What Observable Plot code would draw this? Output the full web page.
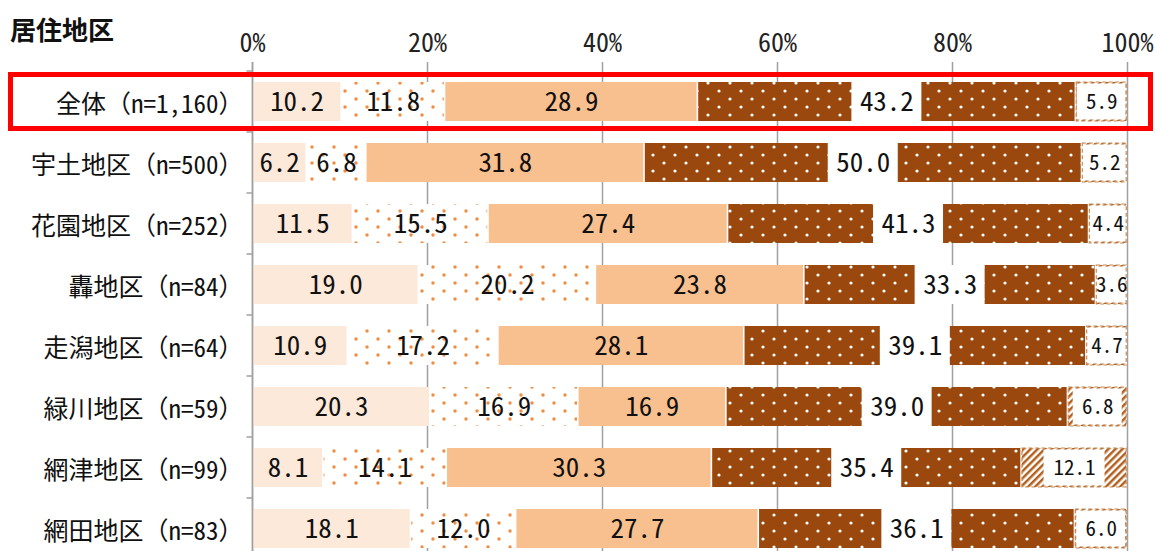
<!DOCTYPE html>
<html><head><meta charset="utf-8">
<script src="https://cdn.jsdelivr.net/npm/d3@7"></script>
<script src="https://cdn.jsdelivr.net/npm/@observablehq/plot@0.6"></script>
<style>
body{margin:0;background:#fff;}
#wrap{position:relative;width:1156px;height:551px;overflow:hidden;background:#fff;}
#wrap svg{display:block;}
#title{position:absolute;left:10px;top:16px;font-weight:bold;font-size:26px;font-family:"Noto Sans CJK JP",sans-serif;line-height:1;color:#111;}
</style></head><body>
<svg width="0" height="0" style="position:absolute">
<defs>
<pattern id="dotsOrange" patternUnits="userSpaceOnUse" width="22" height="16">
<rect width="22" height="16" fill="#ffffff"/>
<circle cx="4" cy="3" r="1.7" fill="#F28C3F"/>
<circle cx="15" cy="11" r="1.7" fill="#F28C3F"/>
</pattern>
<pattern id="dotsBrown" patternUnits="userSpaceOnUse" width="22" height="16">
<rect width="22" height="16" fill="#9A480E"/>
<circle cx="4" cy="3" r="1.6" fill="#ffffff"/>
<circle cx="15" cy="11" r="1.6" fill="#ffffff"/>
</pattern>
<pattern id="hatch" patternUnits="userSpaceOnUse" width="5" height="5" patternTransform="rotate(45)">
<rect width="5" height="5" fill="#ffffff"/>
<rect width="2.5" height="5" fill="#B4611F"/>
</pattern>
</defs></svg>
<div id="wrap"><div id="title">居住地区</div></div>
<script>
const categories = ["全体（n=1,160）","宇土地区（n=500）","花園地区（n=252）","轟地区（n=84）","走潟地区（n=64）","緑川地区（n=59）","網津地区（n=99）","網田地区（n=83）"];
const seg1 = [10.2, 6.2, 11.5, 19.0, 10.9, 20.3, 8.1, 18.1];
const seg2 = [11.8, 6.8, 15.5, 20.2, 17.2, 16.9, 14.1, 12.0];
const seg3 = [28.9, 31.8, 27.4, 23.8, 28.1, 16.9, 30.3, 27.7];
const seg4 = [43.2, 50.0, 41.3, 33.3, 39.1, 39.0, 35.4, 36.1];
const seg5 = [5.9, 5.2, 4.4, 3.6, 4.7, 6.8, 12.1, 6.0];
const xTicks = [0, 20, 40, 60, 80, 100];

const fills = ["#FDE9D9", "url(#dotsOrange)", "#F8C08F", "url(#dotsBrown)", "url(#hatch)"];
const W = 1156, H = 551, ML = 252, MR = 29, MT = 69;
const PAD_IN = 0.365;

const series = [seg1, seg2, seg3, seg4, seg5];
const rows = [];
categories.forEach((cat, i) => {
  const vals = series.map(s => s[i]);
  const total = d3.sum(vals);
  let cum = 0;
  vals.forEach((v, j) => {
    const x1 = cum / total * 100; cum += v; const x2 = cum / total * 100;
    rows.push({cat, seg: j, v, x1, x2, mid: (x1 + x2) / 2, label: v.toFixed(1)});
  });
});
const pxPerUnit = (W - ML - MR) / 100;
const box4 = rows.filter(d => d.seg === 3).map(d => ({...d, b1: d.mid - 35 / pxPerUnit, b2: d.mid + 35 / pxPerUnit}));
const box5 = rows.filter(d => d.seg === 4).map(d => {
  const half = Math.min((d.x2 - d.x1) / 2, (13 + 12 * d.label.length) / 2 / pxPerUnit);
  return {...d, b1: d.mid - half, b2: d.mid + half};
});

function decorations(index, scales, values, dimensions) {
  const y = scales.y;
  const y0 = y(categories[0]), y1 = y(categories[1]);
  const step = y1 - y0;
  let bw = typeof y.bandwidth === "function" ? y.bandwidth() : y.bandwidth;
  if (!(bw > 0)) bw = step * (1 - PAD_IN);
  const gap = (step - bw) / 2;
  const g = d3.create("svg:g");
  categories.forEach(c => {
    const yb = y(c) - gap;
    g.append("line").attr("x1", dimensions.marginLeft - 5.5).attr("x2", dimensions.marginLeft)
      .attr("y1", yb).attr("y2", yb).attr("stroke", "#A0A0A0").attr("stroke-width", 1.5);
  });
  const top = y0 - gap + 3.5, bottom = y0 + bw + gap - 3.5;
  g.append("rect").attr("x", 10.5).attr("y", top).attr("width", dimensions.width - 16)
    .attr("height", bottom - top).attr("fill", "none").attr("stroke", "#FF0000").attr("stroke-width", 5);
  return g.node();
}

const svg = Plot.plot({
  width: W, height: H, marginLeft: ML, marginRight: MR, marginTop: MT, marginBottom: 0,
  style: {fontFamily: '"Noto Sans Mono CJK JP","Noto Sans CJK JP",monospace', background: "white", overflow: "visible"},
  x: {domain: [0, 100], axis: null},
  y: {domain: categories, range: [MT, 561], paddingInner: PAD_IN, paddingOuter: PAD_IN / 2, axis: null},
  color: {type: "identity"},
  marks: [
    Plot.ruleX(xTicks, {x: d => d, stroke: "#A0A0A0", strokeWidth: 1.5, insetTop: -7}),
    Plot.barX(rows, {x1: "x1", x2: "x2", y: "cat", fill: d => fills[d.seg], insetLeft: 0.8, insetRight: 0.8, ariaLabel: "segments"}),
    Plot.barX(box4, {x1: "b1", x2: "b2", y: "cat", fill: "white"}),
    Plot.barX(box5, {x1: "b1", x2: "b2", y: "cat", fill: "white", insetTop: 1.5, insetBottom: 1.5}),
    Plot.barX(rows.filter(d => d.seg === 4), {x1: "x1", x2: "x2", y: "cat", fill: "none", stroke: "#C98A55", strokeWidth: 1.2, strokeDasharray: "4,2.5", insetLeft: 0.8, insetRight: 0.8}),
    Plot.ruleX([0], {x: d => d, stroke: "#A0A0A0", strokeWidth: 1.5, insetTop: -7}),
    Plot.text(rows.filter(d => d.seg < 4), {x: "mid", y: "cat", text: "label", fontSize: 27, fontWeight: 300, fill: "#111", ariaLabel: "vlabel"}),
    Plot.text(rows.filter(d => d.seg === 4), {x: "mid", y: "cat", text: "label", fontSize: 21, fontWeight: 300, fill: "#111", ariaLabel: "vlabel5"}),
    Plot.text(xTicks, {x: d => d, frameAnchor: "top", lineAnchor: "bottom", dy: -18, text: d => d + "%", fontSize: 26, fontWeight: 300, fill: "#222", ariaLabel: "xtick"}),
    Plot.text(categories, {x: d => 0, y: d => d, text: d => d, textAnchor: "end", dx: -9, dy: 3, fontSize: 25, fontWeight: 300, fill: "#111", ariaLabel: "ylabel"}),
    decorations
  ]
});

function squeeze(sel, k) {
  d3.select(svg).selectAll(sel).each(function() {
    const t = this.getAttribute("transform") || "";
    this.setAttribute("transform", t + ` scale(${k},1)`);
  });
}
squeeze('g[aria-label="vlabel"] text', 0.8);
squeeze('g[aria-label="vlabel5"] text', 0.75);
d3.select(svg).selectAll('g[aria-label="segments"]').style("filter", "drop-shadow(1px 2px 1.2px rgba(0,0,0,0.35))");
document.getElementById("wrap").prepend(svg);
</script>
</body></html>
